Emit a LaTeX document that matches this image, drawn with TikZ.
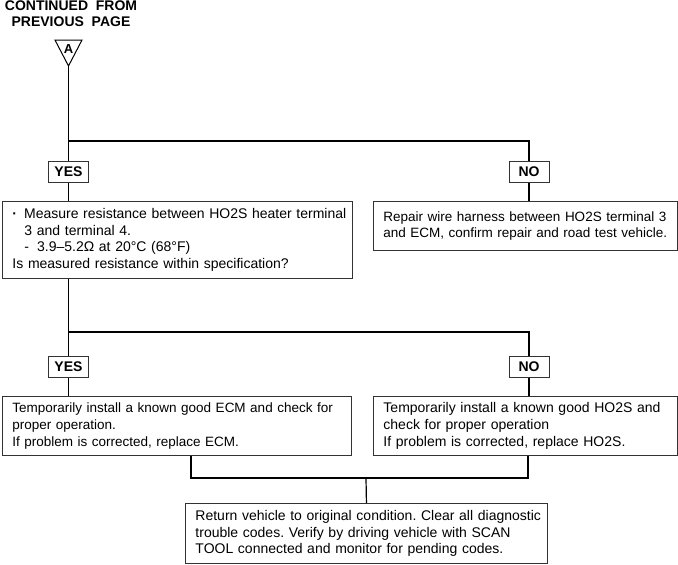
\documentclass[tikz,border=0pt]{standalone}
\usepackage{fontspec}
\setmainfont{Liberation Sans}
\frenchspacing
\begin{document}
\begin{tikzpicture}[x=1pt,y=-1pt,
  conn/.style={line width=1.2pt, black},
  box/.style={draw=black!80, line width=0.9pt, anchor=north west, align=left,
    inner xsep=10pt, inner ysep=0pt, font=\fontsize{14}{16.7}\selectfont},
  boxs/.style={box, font=\fontsize{13.5}{16.7}\selectfont},
  tag/.style={draw=black!80, line width=0.9pt, minimum width=40pt, minimum height=21pt,
    inner sep=0pt, font=\bfseries\fontsize{14}{16}\selectfont},
  hdr/.style={align=center, inner sep=0pt, font=\bfseries\fontsize{14}{16}\selectfont},
]
\useasboundingbox (0,0) rectangle (678,565);

\node[hdr] (head) at (71,14) {CONTINUED\ \ FROM\\PREVIOUS\ \ PAGE};
\draw[line width=1pt] (55,40) -- (82,40) -- (68.5,66) -- cycle;
\coordinate (apex) at (68.5,66);
\node[font=\bfseries\fontsize{13}{14}\selectfont, inner sep=0pt] (lblA) at (68.5,49) {A};

\node[tag] (yes1) at (68.5,172) {YES};
\node[tag] (no1) at (529,172) {NO};
\coordinate (j1) at (68.5,141);
\coordinate (j1r) at (529,141);

\node[box, text width=330pt, minimum height=77pt] (box1) at (2,201)
{\mbox{\textbf{·}\hspace{7pt}Measure resistance between HO2S heater terminal}\\
\hspace*{12pt}3 and terminal 4.\\
\hspace*{12pt}-\hspace{8pt}3.9–5.2Ω at 20°C (68°F)\\
Is measured resistance within specification?};

\node[boxs, text width=284pt, minimum height=49pt] (box2) at (373,201)
{\mbox{Repair wire harness between HO2S terminal 3}\\
\mbox{and ECM, confirm repair and road test vehicle.}};

\coordinate (j2) at (68.5,332);
\coordinate (j2r) at (529,332);
\node[tag] (yes2) at (68.5,367) {YES};
\node[tag] (no2) at (529,367) {NO};

\node[boxs, text width=329pt, minimum height=59pt] (box3) at (2,396)
{\mbox{Temporarily install a known good ECM and check for}\\
proper operation.\\
If problem is corrected, replace ECM.};

\node[box, text width=284pt, minimum height=59pt] (box4) at (373,396)
{\mbox{Temporarily install a known good HO2S and}\\
check for proper operation\\
If problem is corrected, replace HO2S.};

\node[box, text width=342pt, minimum height=60pt] (box5) at (185,503)
{\mbox{Return vehicle to original condition. Clear all diagnostic}\\
\mbox{trouble codes. Verify by driving vehicle with SCAN}\\
\mbox{TOOL connected and monitor for pending codes.}};

\coordinate (b3) at (191,455);
\coordinate (b4) at (528,455);
\coordinate (j3l) at (191,478);
\coordinate (j3r) at (528,478);
\coordinate (j3m) at (366,478);

\draw[conn] (apex) -- (yes1.north);
\draw[conn] (j1) -- (j1r) -- (no1.north);
\draw[conn] (yes1.south) -- (yes1.south |- box1.north);
\draw[conn] (no1.south) -- (no1.south |- box2.north);
\draw[conn] (yes1.south |- box1.south) -- (j2) -- (yes2.north);
\draw[conn] (j2) -- (j2r) -- (no2.north);
\draw[conn] (yes2.south) -- (yes2.south |- box3.north);
\draw[conn] (no2.south) -- (no2.south |- box4.north);
\draw[conn] (b3 |- box3.south) -- (j3l) -- (j3r) -- (b4 |- box4.south);
\draw[conn] (j3m) -- (box5.north);
\end{tikzpicture}
\end{document}
